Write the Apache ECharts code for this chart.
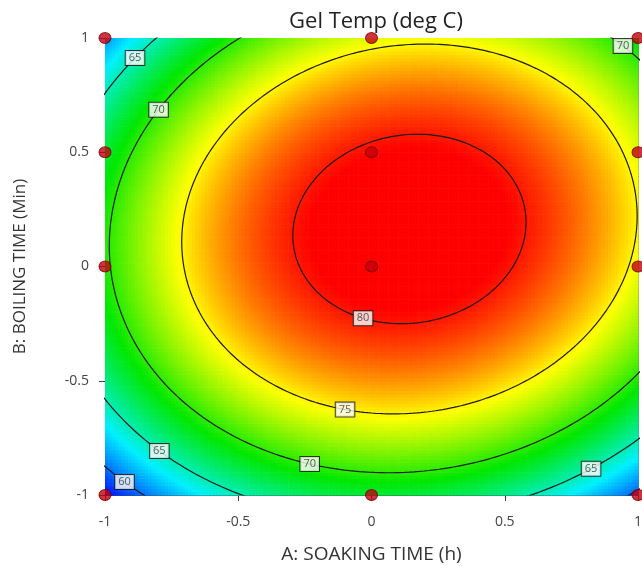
<!DOCTYPE html>
<html><head><meta charset="utf-8">
<script src="https://cdn.jsdelivr.net/npm/echarts@6/dist/echarts.min.js"></script>
<style>html,body{margin:0;padding:0;background:#fff}#c{width:642px;height:566px}</style>
</head><body><div id="c"></div>
<script>
// ---- data ----
const xTicks = [-1, -0.5, 0, 0.5, 1];
const yTicks = [-1, -0.5, 0, 0.5, 1];
// fitted quadratic response-surface model (estimated from the contour positions)
const modelTerms = ['Intercept', 'A', 'B', 'AB', 'A^2', 'B^2'];
const modelCoefs = [81.34, 2.43, 3.22, 1.38, -9.33, -10.4];
const contourLevels = [60, 65, 70, 75, 80];
// design points
const designA = [-1, 0, 1, -1, 0, 1, -1, 0, 1, -1, 0, 1];
const designB = [1, 1, 1, 0.5, 0.5, 0.5, 0, 0, 0, -1, -1, -1];
// contour label annotations: level and direction (deg) from the optimum
const labelLevels = [65, 70, 70, 80, 75, 70, 65, 60, 65];
const labelAngles = [144, 151, 45, 246, 253, 250, 226, 226, 303];
// colour scale: blue (low) -> red (high)
const colorRamp = ['#0010ff', '#00f0ff', '#00e800', '#ffff00', '#ff0000'];
const colorMax = 80.5;

const [b0, b1, b2, b12, b11, b22] = modelCoefs;
function f(A, B) { return b0 + b1*A + b2*B + b12*A*B + b11*A*A + b22*B*B; }
// stationary point
const det = (2*b11)*(2*b22) - b12*b12;
const cA = ((-b1)*(2*b22) - b12*(-b2)) / det;
const cB = ((2*b11)*(-b2) - b12*(-b1)) / det;
const fMax = f(cA, cB);
function contourPoint(level, deg) {
  const t = deg*Math.PI/180, dx = Math.cos(t), dy = Math.sin(t);
  const q = b11*dx*dx + b22*dy*dy + b12*dx*dy;
  const r = Math.sqrt((level - fMax)/q);
  return [cA + r*dx, cB + r*dy];
}

// surface grid
const nA = 160, nB = 140;
const hA = 1/nA, hB = 1/nB;
const surf = [];
let vmin = Infinity;
for (let i = 0; i < nA; i++) {
  for (let j = 0; j < nB; j++) {
    const A = -1 + (2*i + 1)*hA, B = -1 + (2*j + 1)*hB;
    const v = f(A, B);
    vmin = Math.min(vmin, v);
    surf.push([A, B, v]);
  }
}

const contourSeries = contourLevels.map(lv => {
  const pts = [];
  for (let d = 0; d <= 360; d += 1) pts.push(contourPoint(lv, d));
  return {
    type: 'line', data: pts, showSymbol: false, symbol: 'none', smooth: false,
    lineStyle: { color: '#1a1a1a', width: 1.2 }, clip: true, z: 3, silent: true
  };
});

const labelData = labelLevels.map((lv, k) => {
  const p = contourPoint(lv, labelAngles[k]);
  return { value: [p[0], p[1]], name: String(lv) };
});

const FONT = '"Open Sans", "Noto Sans", sans-serif';
const chart = echarts.init(document.getElementById('c'), null, { renderer: 'canvas' });
chart.setOption({
  animation: false,
  title: {
    text: 'Gel Temp (deg C)', left: 371, top: 6, textAlign: 'center',
    textStyle: { fontFamily: FONT, fontSize: 22, fontWeight: 'normal', color: '#222' }
  },
  grid: { left: 105, top: 38, width: 533, height: 457, show: false,
    containLabel: false, outerBoundsMode: 'none' },
  visualMap: {
    type: 'continuous', show: false, seriesIndex: 0, dimension: 2,
    min: vmin, max: colorMax, inRange: { color: colorRamp }
  },
  xAxis: [{
    type: 'value', min: -1, max: 1, interval: 0.5,
    name: 'A: SOAKING TIME (h)', nameLocation: 'middle', nameGap: 50,
    nameTextStyle: { fontFamily: FONT, fontSize: 19, color: '#333' },
    axisLine: { show: true, onZero: false, lineStyle: { color: '#444', width: 1 } },
    axisTick: { show: true, length: 6, lineStyle: { color: '#444' } },
    axisLabel: { margin: 20, fontFamily: FONT, fontSize: 14, color: '#444',
      formatter: v => String(xTicks.find(t => Math.abs(t - v) < 1e-9) ?? v) },
    splitLine: { show: false }
  }, {
    type: 'value', min: -1, max: 1, position: 'top',
    axisLine: { show: true, onZero: false, lineStyle: { color: '#777', width: 1 } },
    axisTick: { show: false }, axisLabel: { show: false }, splitLine: { show: false }
  }],
  yAxis: [{
    type: 'value', min: -1, max: 1, interval: 0.5,
    name: 'B: BOILING TIME (Min)', nameLocation: 'middle', nameGap: 76,
    nameTextStyle: { fontFamily: FONT, fontSize: 17, color: '#333' },
    axisLine: { show: true, onZero: false, lineStyle: { color: '#444', width: 1 } },
    axisTick: { show: true, length: 6, lineStyle: { color: '#444' } },
    axisLabel: { margin: 16, fontFamily: FONT, fontSize: 14, color: '#444',
      formatter: v => String(yTicks.find(t => Math.abs(t - v) < 1e-9) ?? v) },
    splitLine: { show: false }
  }, {
    type: 'value', min: -1, max: 1, position: 'right',
    axisLine: { show: true, onZero: false, lineStyle: { color: '#777', width: 1 } },
    axisTick: { show: false }, axisLabel: { show: false }, splitLine: { show: false }
  }],
  series: [
    {
      type: 'custom', data: surf, progressive: 0, silent: true, z: 1,
      encode: { x: 0, y: 1 },
      renderItem: (params, api) => {
        const A = api.value(0), B = api.value(1);
        const p0 = api.coord([A - hA, B + hB]);
        const p1 = api.coord([A + hA, B - hB]);
        return {
          type: 'rect',
          shape: { x: p0[0], y: p0[1], width: p1[0] - p0[0] + 0.6, height: p1[1] - p0[1] + 0.6 },
          style: { fill: api.visual('color') }
        };
      }
    },
    ...contourSeries,
    {
      type: 'scatter', data: labelData, symbolSize: 0, z: 5, clip: false, silent: true,
      label: {
        show: true, position: 'inside', formatter: p => p.name,
        fontFamily: FONT, fontSize: 11, color: '#333',
        backgroundColor: '#fff', borderColor: '#111', borderWidth: 1, padding: [2, 3, 1, 3]
      }
    },
    {
      type: 'scatter', data: designA.map((a, k) => [a, designB[k]]), symbol: 'circle',
      symbolSize: [12, 11], clip: false, z: 6, silent: true,
      itemStyle: { color: '#c3000c', borderColor: '#7a0000', borderWidth: 1 }
    }
  ]
});
</script>
</body></html>
